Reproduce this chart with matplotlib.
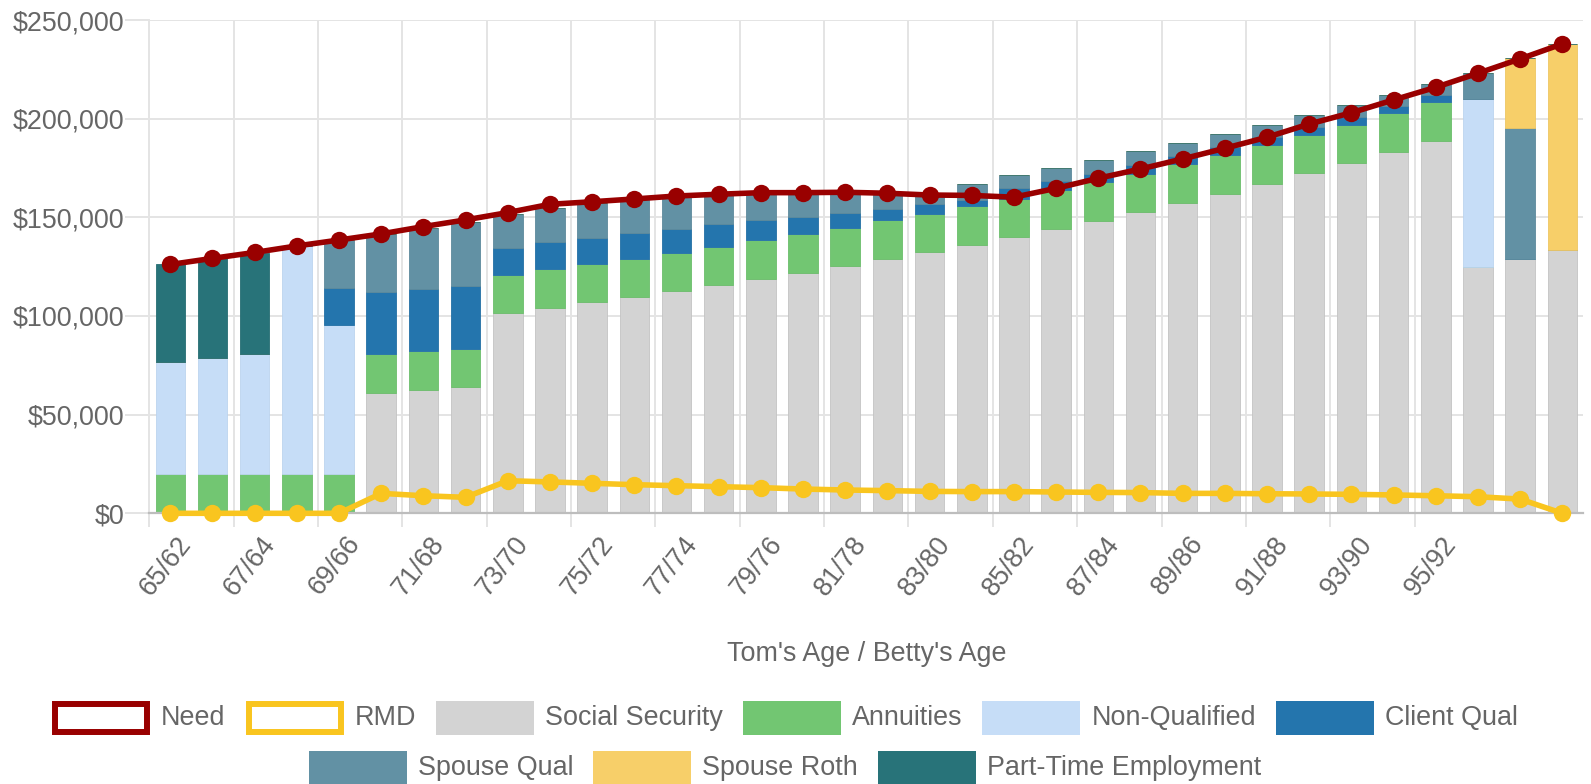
import matplotlib
matplotlib.use("Agg")
import matplotlib.pyplot as plt
from matplotlib.patches import Rectangle
from matplotlib.ticker import FuncFormatter, FixedLocator
import matplotlib.transforms as mtransforms
import numpy as np

plt.rcParams['font.family'] = ['Liberation Sans', 'DejaVu Sans']

# ---------------- data ----------------
age_labels = ["65/62", "66/63", "67/64", "68/65", "69/66", "70/67", "71/68", "72/69",
              "73/70", "74/71", "75/72", "76/73", "77/74", "78/75", "79/76", "80/77",
              "81/78", "82/79", "83/80", "84/81", "85/82", "86/83", "87/84", "88/85",
              "89/86", "90/87", "91/88", "92/89", "93/90", "94/91", "95/92", "96/93",
              "97/94", "98/95"]

need = [126100, 129200, 132200, 135500, 138500, 141600, 145300, 148700, 152400, 156600,
        157900, 159300, 160800, 161700, 162500, 162500, 162700, 162200, 161300, 161100,
        160200, 164700, 169800, 174500, 179600, 185000, 190600, 197300, 203000, 209500,
        215900, 223000, 230300, 237900]

rmd = [0, 0, 0, 0, 0, 10100, 8900, 8100, 16500, 15900,
       15200, 14500, 14000, 13500, 13000, 12300, 11800, 11500, 11100, 11000,
       11000, 10800, 10600, 10500, 10100, 10100, 9900, 9800, 9600, 9300,
       8900, 8400, 7200, 0]

social_security = [0, 0, 0, 0, 0, 61000, 62500, 64000, 101500, 104200,
                   106900, 109600, 112500, 115700, 118800, 121900, 125300, 128900, 132400, 136100,
                   140000, 144100, 148300, 152700, 157400, 162000, 167100, 172300, 177500, 183300,
                   188900, 125000, 129100, 133500]

annuities = [19700, 19700, 19700, 19700, 19700, 19500, 19500, 19500, 19500, 19500,
             19500, 19500, 19500, 19500, 19500, 19500, 19500, 19500, 19500, 19500,
             19500, 19500, 19500, 19500, 19500, 19500, 19500, 19500, 19500, 19500,
             19500, 0, 0, 0]

non_qualified = [57100, 58800, 60800, 115800, 75500, 0, 0, 0, 0, 0,
                 0, 0, 0, 0, 0, 0, 0, 0, 0, 0,
                 0, 0, 0, 0, 0, 0, 0, 0, 0, 0,
                 0, 84800, 0, 0]

client_qual = [0, 0, 0, 0, 19100, 31900, 31700, 31500, 13200, 13900,
               13300, 12800, 12200, 11300, 10100, 8900, 7600, 5900, 4900, 3400,
               5300, 4600, 4300, 4400, 4200, 3900, 4100, 4200, 4000, 3400,
               3400, 0, 0, 0]

spouse_qual = [0, 0, 0, 0, 24200, 29200, 30700, 32800, 17500, 17300,
               17600, 17200, 16400, 15100, 13900, 12000, 10100, 7800, 4200, 8100,
               6400, 6900, 6800, 6800, 6400, 6700, 6200, 6000, 5900, 5900,
               5700, 13500, 66400, 0]

spouse_roth = [0, 0, 0, 0, 0, 0, 0, 0, 0, 0,
               0, 0, 0, 0, 0, 0, 0, 0, 0, 0,
               0, 0, 0, 0, 0, 0, 0, 0, 0, 0,
               0, 0, 35100, 104400]

part_time = [49300, 50700, 51200, 0, 0, 0, 0, 0, 0, 0,
             0, 0, 0, 0, 0, 0, 0, 0, 0, 0,
             0, 0, 0, 0, 0, 0, 0, 0, 0, 0,
             0, 0, 0, 0]

bar_series = [
    ("Social Security", social_security, "#d3d3d3", "#c4c4c4"),
    ("Annuities", annuities, "#72c672", "#6bbd6b"),
    ("Non-Qualified", non_qualified, "#c6ddf7", "#bcd4ef"),
    ("Client Qual", client_qual, "#2475ad", "#2270a5"),
    ("Spouse Qual", spouse_qual, "#6291a4", "#5d8a9c"),
    ("Spouse Roth", spouse_roth, "#f7cf69", "#eec664"),
    ("Part-Time Employment", part_time, "#287379", "#266d73"),
]
need_color = "#990000"
rmd_color = "#f9c51f"
text_color = "#666666"
grid_color = "#e4e4e4"
FS = 19.4

# ---------------- figure ----------------
W, H = 1591, 784
fig = plt.figure(figsize=(W / 100, H / 100), dpi=100)
ax_l, ax_r, ax_t, ax_b = 149.2, 1583.4, 20.0, 513.3
ax = fig.add_axes([ax_l / W, (H - ax_b) / H, (ax_r - ax_l) / W, (ax_b - ax_t) / H])

x = np.arange(len(age_labels))
bottom = np.zeros(len(x))
for name, vals, col, ecol in bar_series:
    v = np.array(vals, dtype=float)
    ax.bar(x, v, width=0.7, bottom=bottom, color=col, edgecolor=ecol,
           linewidth=0.6, zorder=2)
    bottom += v

ax.plot(x, need, color=need_color, lw=4.0, marker='o', ms=12.5, mew=0,
        zorder=6, clip_on=False, solid_joinstyle='round')
ax.plot(x, rmd, color=rmd_color, lw=4.0, marker='o', ms=12.5, mew=0,
        zorder=5, clip_on=False, solid_joinstyle='round')

ax.set_xlim(-0.5, len(x) - 0.5)
ax.set_ylim(0, 250000)

# y axis
ax.yaxis.set_major_locator(FixedLocator([0, 50000, 100000, 150000, 200000, 250000]))
ax.yaxis.set_major_formatter(FuncFormatter(lambda v, p: "${:,.0f}".format(v)))
ax.tick_params(axis='y', length=17, width=1.4, color=grid_color, pad=1,
               labelsize=FS, labelcolor=text_color)
ax.grid(axis='y', color=grid_color, lw=1.4, zorder=0)

# x axis
label_idx = list(range(0, 31, 2))
ax.xaxis.set_major_locator(FixedLocator(label_idx))
ax.set_xticklabels([age_labels[i] for i in label_idx])
bounds = [i - 0.5 for i in label_idx]
ax.xaxis.set_minor_locator(FixedLocator(bounds))
ax.tick_params(axis='x', which='major', length=0, pad=13, labelsize=FS,
               labelcolor=text_color)
ax.tick_params(axis='x', which='minor', length=10, width=1.4, color=grid_color)
for b in bounds:
    ax.axvline(b, color=grid_color, lw=1.4, zorder=0)
offset = mtransforms.ScaledTranslation(6 / 100, 0, fig.dpi_scale_trans)
for lab in ax.get_xticklabels():
    lab.set_rotation(52)
    lab.set_ha('right')
    lab.set_va('top')
    lab.set_rotation_mode('anchor')
    lab.set_transform(lab.get_transform() + offset)

for s in ['top', 'right']:
    ax.spines[s].set_visible(False)
ax.spines['left'].set_color(grid_color)
ax.spines['left'].set_linewidth(1.4)
ax.spines['bottom'].set_color('#bdbdbd')
ax.spines['bottom'].set_linewidth(1.6)
ax.set_axisbelow(True)

# ---------------- overlay for axis title and legend ----------------
ov = fig.add_axes([0, 0, 1, 1], zorder=10)
ov.set_xlim(0, W)
ov.set_ylim(H, 0)
ov.axis('off')

ov.text((ax_l + ax_r) / 2, 654, "Tom's Age / Betty's Age", ha='center', va='center',
        fontsize=FS, color=text_color)

legend_rows = [
    [("Need", need_color, 'line'), ("RMD", rmd_color, 'line'),
     ("Social Security", "#d3d3d3", 'box'), ("Annuities", "#72c672", 'box'),
     ("Non-Qualified", "#c6ddf7", 'box'), ("Client Qual", "#2475ad", 'box')],
    [("Spouse Qual", "#6291a4", 'box'), ("Spouse Roth", "#f7cf69", 'box'),
     ("Part-Time Employment", "#287379", 'box')],
]
row_y = [718, 768]
box_w, box_h, gap_t, gap_i = 98, 34, 11, 20
legend_cx = 785
renderer = fig.canvas.get_renderer()
for row, cy in zip(legend_rows, row_y):
    texts = []
    widths = []
    for name, col, kind in row:
        t = ov.text(0, cy, name, ha='left', va='center', fontsize=FS, color=text_color)
        texts.append(t)
        bb = t.get_window_extent(renderer=renderer)
        widths.append(bb.width)
    total = sum(box_w + gap_t + w for w in widths) + gap_i * (len(row) - 1)
    xpos = legend_cx - total / 2
    for (name, col, kind), t, w in zip(row, texts, widths):
        if kind == 'line':
            ov.add_patch(Rectangle((xpos + 3, cy - box_h / 2 + 3), box_w - 6, box_h - 6,
                                   facecolor='white', edgecolor=col, lw=4.3))
        else:
            ov.add_patch(Rectangle((xpos, cy - box_h / 2), box_w, box_h,
                                   facecolor=col, edgecolor='none'))
        t.set_x(xpos + box_w + gap_t)
        xpos += box_w + gap_t + w + gap_i

fig.savefig("out.png", dpi=100)
